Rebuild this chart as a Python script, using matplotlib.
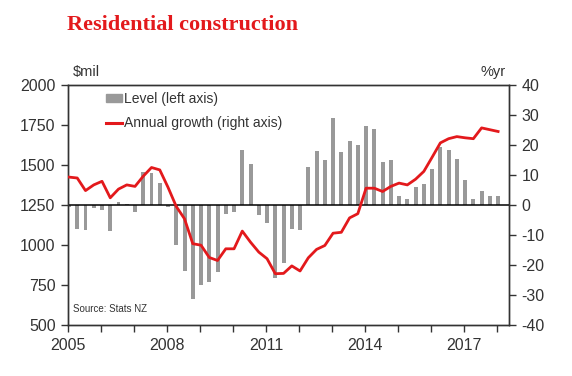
import matplotlib
matplotlib.use('Agg')
import matplotlib.pyplot as plt
from matplotlib.patches import Patch
from matplotlib.lines import Line2D
import numpy as np

# quarterly, 2005 Q1 .. 2018 Q1
level = [1240, 1100, 1092, 1230, 1220, 1088, 1267, 1255, 1208, 1458, 1450, 1387,
         1240, 1000, 840, 661, 750, 771, 834, 1194, 1206, 1594, 1506, 1188,
         1136, 796, 890, 1100, 1094, 1487, 1587, 1531, 1793, 1581, 1650, 1625,
         1744, 1725, 1519, 1531, 1306, 1287, 1362, 1381, 1475, 1612, 1594, 1537,
         1406, 1287, 1337, 1306, 1306]
growth = [9.3, 9.0, 4.8, 6.7, 7.9, 2.4, 5.3, 6.7, 6.2, 9.6, 12.5, 11.7,
          5.9, -0.5, -4.6, -12.9, -13.4, -17.5, -18.5, -14.6, -14.6, -8.7, -12.4, -15.7,
          -17.9, -22.9, -22.8, -20.3, -22.0, -17.6, -14.8, -13.5, -9.4, -9.1, -4.3, -2.9,
          5.6, 5.6, 4.5, 6.2, 7.3, 6.7, 8.6, 11.2, 15.9, 20.7, 22.1, 22.8,
          22.4, 22.1, 25.7, 25.1, 24.5]
years = [2005, 2008, 2011, 2014, 2017]

dates = 2005.03 + np.arange(len(level)) * 0.25
txt = '#333333'
red = '#e3191c'

plt.rcParams['font.family'] = ['Liberation Sans', 'DejaVu Sans']
plt.rcParams['axes.unicode_minus'] = False

fig = plt.figure(figsize=(5.72, 3.76), dpi=100)
ax = fig.add_axes([68/572, 1-325/376, (509-68)/572, (325-85)/376])
ax2 = ax.twinx()

base = 1250
ax.bar(dates, np.array(level) - base, bottom=base, width=0.12, color='#999999', zorder=2)
ax.axhline(base, color='black', lw=1.1, zorder=3)
ax2.plot(dates, growth, color=red, lw=2.0, zorder=4)

ax.set_xlim(2005, 2018.36)
ax.set_ylim(500, 2000)
ax2.set_ylim(-40, 40)
ax.set_yticks(range(500, 2001, 250))
ax2.set_yticks(range(-40, 41, 10))
ax.set_xticks(range(2005, 2019))
ax.set_xticklabels([str(y) if y in years else '' for y in range(2005, 2019)])

for a in (ax, ax2):
    for s in a.spines.values():
        s.set_color('#333333')
        s.set_linewidth(1)
    a.tick_params(colors='#333333', labelcolor=txt, labelsize=11.5, length=5, width=1, pad=4)

fig.text(73/572, 1-72/376, '$mil', color=txt, fontsize=10.5, va='center', ha='left')
fig.text(506/572, 1-72/376, '%yr', color=txt, fontsize=10.5, va='center', ha='right')
ax.text(0.012, 0.055, 'Source: Stats NZ', transform=ax.transAxes, fontsize=7, color=txt)

handles = [Patch(color='#999999'), Line2D([0], [0], color=red, lw=2.2)]
ax2.legend(handles, ['Level (left axis)', 'Annual growth (right axis)'],
           loc='upper left', bbox_to_anchor=(0.07, 1.0), frameon=False,
           fontsize=10, handlelength=1.2, handleheight=0.6, handletextpad=0.1,
           labelspacing=0.75, labelcolor=txt, borderaxespad=0.1)

fig.text(67/572, 1-25/376, 'Residential construction', family='Liberation Serif',
         fontweight='bold', fontsize=16, color=red, va='center', ha='left')

fig.savefig('out.png', dpi=100)
